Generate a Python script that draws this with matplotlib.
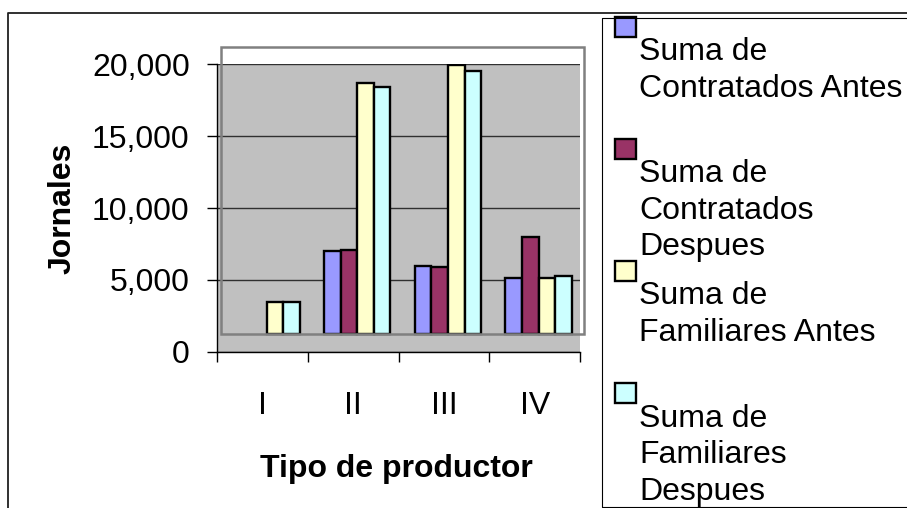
import textwrap
import numpy as np
import matplotlib
matplotlib.use("Agg")
import matplotlib.pyplot as plt
from matplotlib.patches import Rectangle
from matplotlib.lines import Line2D
from matplotlib.ticker import FuncFormatter

plt.rcParams['font.family'] = ['Liberation Sans', 'DejaVu Sans']

# ---------------- data ----------------
categories = ["I", "II", "III", "IV"]
series_names = [
    "Suma de Contratados Antes",
    "Suma de Contratados Despues",
    "Suma de Familiares Antes",
    "Suma de Familiares Despues",
]
contratados_antes = [0, 5780, 4730, 3920]
contratados_despues = [0, 5850, 4660, 6770]
familiares_antes = [2250, 17490, 18700, 3870]
familiares_despues = [2250, 17190, 18300, 4040]
series_values = [contratados_antes, contratados_despues, familiares_antes, familiares_despues]
colors = ["#9999FF", "#993366", "#FFFFCC", "#CCFFFF"]
y_ticks = [0, 5000, 10000, 15000, 20000]

# ---------------- figure ----------------
W, H = 907, 508
FS = 23
fig = plt.figure(figsize=(W / 100, H / 100), dpi=100)

def fx(px):
    return px / W

def fy(py):
    return 1 - py / H

ax_l, ax_r, ax_t, ax_b = 217.3, 580.0, 64.3, 351.7
ax = fig.add_axes([fx(ax_l), fy(ax_b), fx(ax_r) - fx(ax_l), fy(ax_t) - fy(ax_b)])
ax.set_facecolor("#C0C0C0")

# 3-D style depth offset (floor of the front plane)
floor = 1230
dx = 0.044
bar_w = 0.183
x = np.arange(len(categories))
for i, (vals, col) in enumerate(zip(series_values, colors)):
    vals = np.asarray(vals, dtype=float)
    mask = vals > 0
    ax.bar(x[mask] + dx + (i - 1.5) * bar_w, vals[mask], width=bar_w, bottom=floor,
           color=col, edgecolor="black", linewidth=1.7, zorder=3)

ax.add_patch(Rectangle((-0.5 + dx, floor), len(categories), 20000, fill=False,
                       edgecolor="#808080", linewidth=1.8, clip_on=False, zorder=5))

ax.set_xlim(-0.5, len(categories) - 0.5)
ax.set_ylim(0, 20000)
ax.set_yticks(y_ticks)
ax.yaxis.set_major_formatter(FuncFormatter(lambda v, p: f"{int(v):,}"))
ax.yaxis.grid(True, color="#303030", linewidth=1.0)
ax.set_axisbelow(True)

ax.set_xticks(np.arange(-0.5, len(categories)), minor=False)
ax.set_xticklabels([])
ax.set_xticks(x, minor=True)
ax.set_xticklabels(categories, minor=True)
ax.tick_params(axis="x", which="major", length=7.2, width=1, direction="out")
ax.tick_params(axis="x", which="minor", length=0, pad=28, labelsize=FS)
ax.tick_params(axis="y", length=7.2, width=1, direction="out", pad=12.7, labelsize=FS)

for s in ["top", "right"]:
    ax.spines[s].set_visible(False)
for s in ["left", "bottom"]:
    ax.spines[s].set_color("black")
    ax.spines[s].set_linewidth(1.0)

fig.text(fx(396.7), fy(469), "Tipo de productor", ha="center", va="center",
         fontsize=FS, fontweight="bold")
fig.text(fx(62.5), fy(208), "Jornales", ha="center", va="center", rotation=90,
         fontsize=FS, fontweight="bold")

# outer chart border
fig.add_artist(Line2D([fx(8.3), fx(8.3), fx(W + 5)], [fy(H + 5), fy(12.7), fy(12.7)],
                      color="#202020", linewidth=1.3, transform=fig.transFigure))
# legend box
fig.add_artist(Line2D([fx(W + 5), fx(601.7), fx(601.7), fx(W + 5)],
                      [fy(18.3), fy(18.3), fy(507.3), fy(507.3)],
                      color="black", linewidth=0.8, transform=fig.transFigure))

# legend entries
entry_top0, entry_step = 16.7, 122.2
for k, (name, col) in enumerate(zip(series_names, colors)):
    top = entry_top0 + k * entry_step
    fig.add_artist(Rectangle((fx(615), fy(top + 20)), fx(635.7) - fx(615), fy(top) - fy(top + 20),
                             facecolor=col, edgecolor="black", linewidth=1.7,
                             transform=fig.transFigure))
    for j, line in enumerate(textwrap.wrap(name, 17)):
        fig.text(fx(639.3), fy(top + 43.3 + j * 36.6), line, ha="left", va="baseline",
                 fontsize=FS)

fig.savefig("out.png", dpi=100)
